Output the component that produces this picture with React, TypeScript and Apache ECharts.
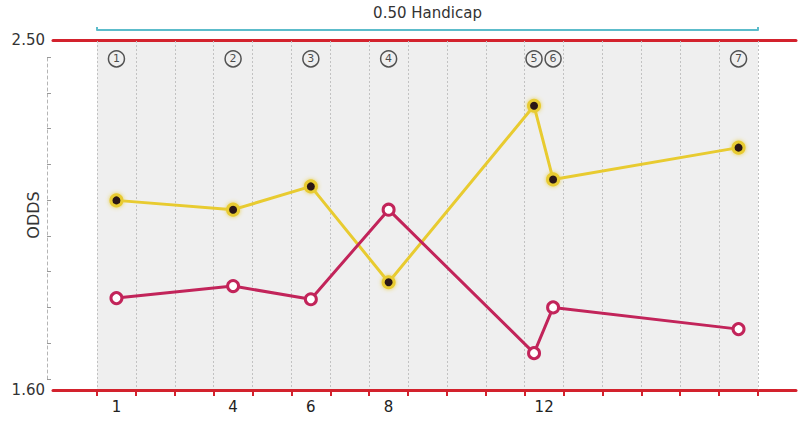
import React, { useEffect, useRef } from "react";
import * as echarts from "echarts";

const categories = ["1","2","3","4","5","6","7","8","9","10","11","12","13","14","15","16","17"];
const shownLabels = ["1", "4", "6", "8", "12"];
// position of each event on the race axis (in category units)
const eventSlots = [0.5, 3.5, 5.5, 7.5, 11.24, 11.73, 16.5];
const eventNames = ["1", "2", "3", "4", "5", "6", "7"];
const yellowOdds = [2.089, 2.065, 2.125, 1.878, 2.333, 2.143, 2.225];
const redOdds = [1.837, 1.868, 1.834, 2.065, 1.695, 1.813, 1.757];
const markerLevel = 2.454;
const yMin = 1.6;
const yMax = 2.5;

const RED_AXIS = "#d3222d";
const YELLOW = "#e8cb30";
const CRIMSON = "#c2245a";
const FONT = "DejaVu Sans";

export default function App() {
  const ref = useRef<HTMLDivElement>(null);
  useEffect(() => {
    if (!ref.current) return;
    const chart = echarts.init(ref.current, null, { renderer: "svg" });
    const option: any = {
      animation: false,
      backgroundColor: "#ffffff",
      textStyle: { fontFamily: FONT },
      grid: [
        { left: 97, right: 43, top: 40, bottom: 46, show: true, backgroundColor: "#efefef", borderWidth: 0 },
        { left: 53, right: 5, top: 40, bottom: 46 },
        { left: 47, right: 740, top: 57, bottom: 57 },
      ],
      xAxis: [
        {
          gridIndex: 0,
          type: "category",
          data: categories,
          boundaryGap: true,
          axisLine: { show: true, lineStyle: { color: RED_AXIS, width: 3 } },
          axisTick: { show: true, length: 6, lineStyle: { color: RED_AXIS, width: 2 } },
          axisLabel: {
            interval: 0,
            formatter: (v: string) => (shownLabels.includes(v) ? v : ""),
            color: "#222",
            fontSize: 15,
            margin: 9,
            fontFamily: FONT,
          },
          splitLine: { show: true, lineStyle: { color: "#c2c2c2", type: [2, 2], width: 1 } },
          z: 3,
        },
        { gridIndex: 0, type: "value", min: 0, max: 17, show: false },
        {
          gridIndex: 0,
          type: "value",
          min: 0,
          max: 17,
          interval: 17,
          position: "top",
          offset: 11,
          axisLine: { show: true, lineStyle: { color: "#5cbccb", width: 2 } },
          axisTick: { show: true, length: 3, lineStyle: { color: "#5cbccb", width: 2 } },
          axisLabel: { show: false },
          splitLine: { show: false },
          name: "0.50 Handicap",
          nameLocation: "middle",
          nameGap: 10,
          nameMoveOverlap: false,
          nameTextStyle: { fontSize: 15, color: "#333", fontFamily: FONT },
        },
        {
          gridIndex: 1,
          type: "value",
          min: 0,
          max: 1,
          position: "bottom",
          axisLine: { show: true, lineStyle: { color: RED_AXIS, width: 3 } },
          axisTick: { show: false },
          axisLabel: { show: false },
          splitLine: { show: false },
        },
        {
          gridIndex: 1,
          type: "value",
          min: 0,
          max: 1,
          position: "top",
          axisLine: { show: true, lineStyle: { color: RED_AXIS, width: 3 } },
          axisTick: { show: false },
          axisLabel: { show: false },
          splitLine: { show: false },
        },
        { gridIndex: 2, type: "value", min: 0, max: 1, show: false },
      ],
      yAxis: [
        { gridIndex: 0, type: "value", min: yMin, max: yMax, show: false },
        {
          gridIndex: 1,
          type: "value",
          min: yMin,
          max: yMax,
          interval: 0.9,
          axisLine: { show: false },
          axisTick: { show: false },
          splitLine: { show: false },
          axisLabel: {
            formatter: (v: number) => v.toFixed(2),
            color: "#333",
            fontSize: 15,
            margin: 8,
            fontFamily: FONT,
          },
          name: "ODDS",
          nameLocation: "middle",
          nameGap: 12,
          nameMoveOverlap: false,
          nameTextStyle: { fontSize: 16, color: "#333", fontFamily: FONT },
        },
        {
          gridIndex: 2,
          type: "value",
          min: 0,
          max: 9,
          interval: 1,
          axisLine: { show: true, lineStyle: { color: "#b5b5b5", width: 1, type: [3, 3] } },
          axisTick: { show: true, inside: true, length: 4, lineStyle: { color: "#999" } },
          axisLabel: { show: false },
          splitLine: { show: false },
        },
      ],
      series: [
        {
          type: "line",
          xAxisIndex: 1,
          yAxisIndex: 0,
          data: eventSlots.map((x, i) => [x, yellowOdds[i]]),
          symbol: "circle",
          symbolSize: 11,
          lineStyle: { color: YELLOW, width: 3 },
          itemStyle: {
            color: "#2a1814",
            borderColor: YELLOW,
            borderWidth: 3,
            shadowBlur: 4,
            shadowColor: "rgba(232,205,60,0.9)",
          },
          z: 4,
        },
        {
          type: "line",
          xAxisIndex: 1,
          yAxisIndex: 0,
          data: eventSlots.map((x, i) => [x, redOdds[i]]),
          symbol: "circle",
          symbolSize: 11,
          lineStyle: { color: CRIMSON, width: 3 },
          itemStyle: { color: "#ffffff", borderColor: CRIMSON, borderWidth: 3 },
          z: 5,
        },
        {
          type: "scatter",
          xAxisIndex: 1,
          yAxisIndex: 0,
          data: eventSlots.map((x, i) => [x, markerLevel, eventNames[i]]),
          symbol: "circle",
          symbolSize: 16,
          itemStyle: { color: "rgba(255,255,255,0)", borderColor: "#2a2a2a", borderWidth: 1.5 },
          label: {
            show: true,
            position: "inside",
            formatter: (p: any) => p.data[2],
            fontSize: 11,
            color: "#1e1e1e",
            fontFamily: FONT,
          },
          z: 6,
        },
      ],
    };
    chart.setOption(option);
    return () => chart.dispose();
  }, []);
  return (
    <div
      ref={ref}
      style={{ position: "fixed", left: 0, top: 0, width: 801, height: 436 }}
    />
  );
}
